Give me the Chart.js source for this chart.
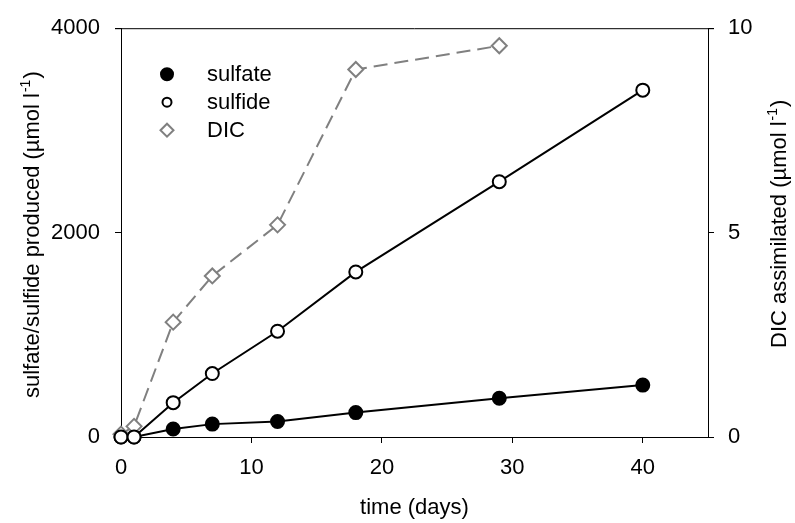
<!DOCTYPE html>
<html>
<head>
<meta charset="utf-8">
<script src="https://cdn.jsdelivr.net/npm/chart.js@4/dist/chart.umd.min.js"></script>
<style>
  html, body { margin: 0; padding: 0; background: #fff; }
  #chart { display: block; }
</style>
</head>
<body>
<canvas id="chart" width="795" height="523"></canvas>
<script>
// sampling days
const days = [0, 1, 4, 7, 12, 18, 29, 40];
const dicDays = [0, 1, 4, 7, 12, 18, 29];

// left axis, umol/l produced
const sulfate = [0, 0, 78, 126, 151, 239, 379, 508];
const sulfide = [0, 0, 336, 621, 1035, 1615, 2498, 3394];

// right axis, umol/l assimilated
const dic = [0.07, 0.26, 2.81, 3.94, 5.19, 8.99, 9.57];

const xTicks = [0, 10, 20, 30, 40];
const leftTicks = [0, 2000, 4000];
const rightTicks = [0, 5, 10];

const FONT = 'Liberation Sans, Arial, sans-serif';
const GREY = '#808080';

const pairs = (xs, ys) => xs.map((x, i) => ({ x: x, y: ys[i] }));
const setTicks = list => scale => { scale.ticks = list.map(v => ({ value: v })); };
const plain = v => String(v);

// legend drawn inside the plot, top left
const innerLegend = {
    id: 'innerLegend',
    afterDatasetsDraw(chart) {
        const ctx = chart.ctx;
        const area = chart.chartArea;
        const items = [
            { label: 'sulfate', style: 'circle', r: 6, fill: '#000', stroke: '#000' },
            { label: 'sulfide', style: 'circle', r: 4.5, fill: '#fff', stroke: '#000' },
            { label: 'DIC', style: 'rectRot', r: 6.5, fill: '#fff', stroke: GREY }
        ];
        ctx.save();
        ctx.font = '22px ' + FONT;
        ctx.textBaseline = 'middle';
        items.forEach((it, i) => {
            const y = area.top + 46 + i * 28;
            const x = area.left + 46;
            ctx.fillStyle = it.fill;
            ctx.strokeStyle = it.stroke;
            ctx.lineWidth = 2;
            Chart.helpers.drawPoint(ctx, { pointStyle: it.style, radius: it.r, borderWidth: 2, rotation: 0 }, x, y);
            ctx.fillStyle = '#000';
            ctx.fillText(it.label, x + 40, y + 1);
        });
        ctx.restore();
    }
};

// vertical axis titles, both read bottom to top, with a raised "-1"
function drawVTitle(ctx, x, y, main, sup, tail) {
    ctx.save();
    ctx.translate(x, y);
    ctx.rotate(-Math.PI / 2);
    ctx.fillStyle = '#000';
    ctx.textBaseline = 'middle';
    ctx.textAlign = 'left';
    ctx.font = '22px ' + FONT;
    ctx.fillText(main, 0, 0);
    let off = ctx.measureText(main).width + 1;
    ctx.font = '14px ' + FONT;
    ctx.fillText(sup, off, -7);
    off += ctx.measureText(sup).width + 1;
    ctx.font = '22px ' + FONT;
    ctx.fillText(tail, off, 0);
    ctx.restore();
}

const frameAndTitles = {
    id: 'frameAndTitles',
    beforeDatasetsDraw(chart) {
        const ctx = chart.ctx;
        const a = chart.chartArea;
        ctx.save();
        ctx.strokeStyle = '#000';
        ctx.lineWidth = 1;
        ctx.beginPath();
        ctx.moveTo(a.left - 6, a.top + 0.5);
        ctx.lineTo(a.right + 6, a.top + 0.5);
        ctx.stroke();
        ctx.restore();
    },
    afterDraw(chart) {
        const ctx = chart.ctx;
        drawVTitle(ctx, 33, 398, 'sulfate/sulfide produced (\u00b5mol l', '-1', ')');
        drawVTitle(ctx, 780, 348, 'DIC assimilated (\u00b5mol l', '-1', ')');
    }
};

const axisGrid = { display: true, drawOnChartArea: false, drawTicks: true, tickLength: 6, color: '#000', lineWidth: 1 };
const axisBorder = { display: true, color: '#000', width: 1 };
const tickFont = { family: FONT, size: 22 };

new Chart(document.getElementById('chart').getContext('2d'), {
    type: 'line',
    data: {
        datasets: [
            {
                label: 'sulfate',
                data: pairs(days, sulfate),
                yAxisID: 'y',
                borderColor: '#000',
                backgroundColor: '#000',
                borderWidth: 2,
                pointRadius: 6.5,
                pointBorderWidth: 2,
                pointBackgroundColor: '#000',
                pointBorderColor: '#000',
                clip: false,
                order: 3
            },
            {
                label: 'DIC',
                data: pairs(dicDays, dic),
                yAxisID: 'y2',
                borderColor: GREY,
                borderWidth: 2,
                borderDash: [14, 7],
                pointStyle: 'rectRot',
                pointRadius: 7.5,
                pointBorderWidth: 2,
                pointBackgroundColor: '#fff',
                pointBorderColor: GREY,
                clip: false,
                order: 2
            },
            {
                label: 'sulfide',
                data: pairs(days, sulfide),
                yAxisID: 'y',
                borderColor: '#000',
                borderWidth: 2,
                pointRadius: 6.5,
                pointBorderWidth: 2,
                pointBackgroundColor: '#fff',
                pointBorderColor: '#000',
                clip: false,
                order: 1
            }
        ]
    },
    options: {
        responsive: false,
        animation: false,
        events: [],
        layout: { padding: { top: 25, left: 0, right: 0, bottom: 0 } },
        plugins: { legend: { display: false }, tooltip: { enabled: false } },
        scales: {
            x: {
                type: 'linear',
                min: 0,
                max: 45,
                afterBuildTicks: setTicks(xTicks),
                afterFit: s => { s.height = 86; },
                grid: axisGrid,
                border: axisBorder,
                ticks: { color: '#000', padding: 12, maxRotation: 0, font: tickFont, callback: plain },
                title: { display: true, text: 'time (days)', color: '#000', padding: { top: 0, bottom: 2 }, font: tickFont }
            },
            y: {
                type: 'linear',
                position: 'left',
                min: 0,
                max: 4000,
                afterBuildTicks: setTicks(leftTicks),
                afterFit: s => { s.width = 121; },
                grid: axisGrid,
                border: axisBorder,
                ticks: { color: '#000', padding: 15, font: tickFont, callback: plain }
            },
            y2: {
                type: 'linear',
                position: 'right',
                min: 0,
                max: 10,
                afterBuildTicks: setTicks(rightTicks),
                afterFit: s => { s.width = 87; },
                grid: axisGrid,
                border: axisBorder,
                ticks: { color: '#000', padding: 14, font: tickFont, callback: plain }
            }
        }
    },
    plugins: [frameAndTitles, innerLegend]
});
</script>
</body>
</html>
